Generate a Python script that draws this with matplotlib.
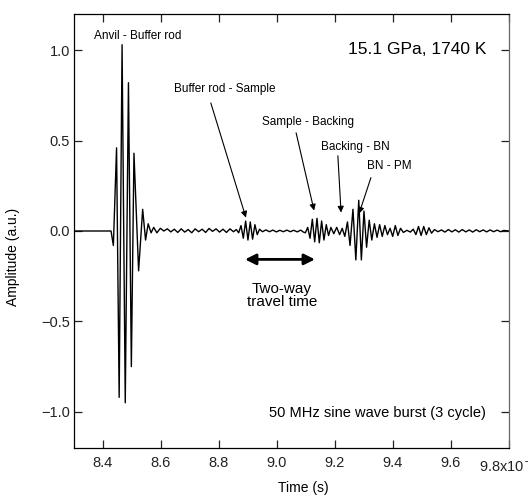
import matplotlib
matplotlib.use("Agg")
import matplotlib.pyplot as plt

plt.rcParams["font.family"] = ["Liberation Sans", "DejaVu Sans"]
plt.rcParams["axes.unicode_minus"] = True

# waveform extrema (time in 1e-6 s, amplitude in a.u.)
t_main = [8.300, 8.428, 8.436, 8.447, 8.456, 8.466, 8.477, 8.488, 8.498, 8.507,
          8.523, 8.537, 8.547, 8.556]
a_main = [0.0, 0.0, -0.08, 0.46, -0.92, 1.03, -0.95, 0.82, -0.75, 0.43,
          -0.22, 0.12, -0.05, 0.04]

t_tail1 = [8.566, 8.575, 8.586, 8.598, 8.610, 8.622, 8.634, 8.646, 8.658, 8.670,
           8.682, 8.694, 8.706, 8.718, 8.730, 8.742, 8.754, 8.766, 8.778, 8.790,
           8.802, 8.814, 8.826, 8.838, 8.850, 8.860]
a_tail1 = [-0.01, 0.02, -0.01, 0.015, 0.0, 0.012, -0.005, 0.01, -0.008, 0.012,
           -0.006, 0.008, -0.01, 0.012, -0.004, 0.01, -0.008, 0.014, -0.002, 0.012,
           -0.006, 0.01, -0.008, 0.012, -0.004, 0.008]

# Buffer rod - Sample echo
t_echo1 = [8.868, 8.876, 8.884, 8.892, 8.900, 8.908, 8.916, 8.924, 8.932, 8.940]
a_echo1 = [-0.01, 0.03, -0.04, 0.055, -0.05, 0.05, -0.045, 0.035, -0.02, 0.01]

t_gap = [8.950, 8.962, 8.974, 8.986, 8.998, 9.010, 9.022, 9.034, 9.046, 9.058,
         9.070, 9.082, 9.090]
a_gap = [-0.004, 0.006, -0.004, 0.005, -0.005, 0.004, -0.004, 0.005, -0.004, 0.004,
         -0.005, 0.005, -0.005]

# Sample - Backing echo
t_echo2 = [9.098, 9.106, 9.114, 9.122, 9.130, 9.138, 9.146, 9.154, 9.162, 9.170,
           9.178, 9.186, 9.196, 9.206, 9.216, 9.225]
a_echo2 = [-0.01, 0.02, -0.04, 0.065, -0.06, 0.07, -0.065, 0.055, -0.05, 0.035,
           -0.025, 0.02, -0.015, 0.02, -0.02, 0.015]

# Backing - BN / BN - PM echoes
t_echo3 = [9.234, 9.243, 9.252, 9.262, 9.272, 9.282, 9.291, 9.300, 9.309, 9.318,
           9.327, 9.336, 9.345, 9.354, 9.363, 9.372, 9.381, 9.390]
a_echo3 = [-0.03, 0.05, -0.08, 0.12, -0.16, 0.17, -0.16, 0.11, -0.09, 0.06,
           -0.05, 0.04, -0.035, 0.035, -0.03, 0.03, -0.02, 0.015]

t_tail2 = [9.399, 9.408, 9.417, 9.426, 9.436, 9.448, 9.460, 9.470, 9.479, 9.488,
           9.497, 9.506, 9.515, 9.524, 9.533, 9.543, 9.555, 9.567, 9.579, 9.591,
           9.603, 9.615, 9.627, 9.639, 9.651, 9.663, 9.675, 9.687, 9.699, 9.711,
           9.723, 9.735, 9.747, 9.759, 9.771, 9.782, 9.800]
a_tail2 = [-0.03, 0.03, -0.025, 0.015, -0.008, 0.004, -0.006, 0.01, -0.02, 0.025,
           -0.025, 0.025, -0.02, 0.018, -0.012, 0.008, -0.004, 0.006, -0.006, 0.008,
           -0.005, 0.007, -0.006, 0.008, -0.005, 0.006, -0.006, 0.007, -0.004, 0.006,
           -0.005, 0.006, -0.004, 0.005, -0.004, 0.003, 0.0]

time = t_main + t_tail1 + t_echo1 + t_gap + t_echo2 + t_echo3 + t_tail2
amp = a_main + a_tail1 + a_echo1 + a_gap + a_echo2 + a_echo3 + a_tail2

xticks = [8.4, 8.6, 8.8, 9.0, 9.2, 9.4, 9.6, 9.8]
xlabels = ["8.4", "8.6", "8.8", "9.0", "9.2", "9.4", "9.6", "9.8x10$^{-6}$"]
yticks = [-1.0, -0.5, 0.0, 0.5, 1.0]

# label text, text position, arrow tail, arrow tip
labels = ["Buffer rod - Sample", "Sample - Backing", "Backing - BN", "BN - PM"]
label_xy = [(8.821, 0.785), (9.107, 0.603), (9.269, 0.466), (9.386, 0.361)]
arrow_from = [(8.772, 0.708), (9.066, 0.543), (9.210, 0.416), (9.324, 0.295)]
arrow_to = [(8.893, 0.074), (9.128, 0.113), (9.221, 0.102), (9.283, 0.096)]

fig = plt.figure(figsize=(5.28, 5.0), dpi=100)
ax = fig.add_axes([0.140, 0.104, 0.824, 0.868])

ax.plot(time, amp, color="black", lw=1.0)

ax.set_xlim(8.3, 9.8)
ax.set_ylim(-1.2, 1.2)
ax.set_xticks(xticks)
ax.set_xticklabels(xlabels)
ax.set_yticks(yticks)
ax.set_yticklabels([f"{v:.1f}".replace("-", "\u2212") for v in yticks])
ax.tick_params(direction="in", top=True, right=True, length=6, width=0.9,
               labelsize=10.5, colors="#222222")
ax.tick_params(axis="x", pad=6)
ax.tick_params(axis="y", pad=3)
for s in ax.spines.values():
    s.set_linewidth(0.9)
ax.spines["right"].set_color("#666666")

ax.set_ylabel("Amplitude (a.u.)", fontsize=10)
ax.yaxis.set_label_coords(-0.123, 0.44)
fig.text(0.574, 0.024, "Time (s)", fontsize=10, ha="center", va="center")

ax.text(8.521, 1.077, "Anvil - Buffer rod", fontsize=8.5, ha="center", va="center")
for lab, xy, p0, p1 in zip(labels, label_xy, arrow_from, arrow_to):
    ax.text(xy[0], xy[1], lab, fontsize=8.5, ha="center", va="center")
    ax.annotate("", xy=p1, xytext=p0,
                arrowprops=dict(arrowstyle="-|>", color="black", lw=0.8,
                                mutation_scale=9, shrinkA=0, shrinkB=0))

ax.annotate("", xy=(8.890, -0.157), xytext=(9.131, -0.157),
            arrowprops=dict(arrowstyle="<|-|>", color="black", lw=2,
                            mutation_scale=16, shrinkA=0, shrinkB=0))
ax.text(9.017, -0.355, "Two-way\ntravel time", fontsize=11, ha="center",
        va="center", linespacing=0.9)

ax.text(9.721, 1.005, "15.1 GPa, 1740 K", fontsize=12.5, ha="right", va="center")
ax.text(9.721, -1.005, "50 MHz sine wave burst (3 cycle)", fontsize=10.5,
        ha="right", va="center")

fig.savefig("out.png", dpi=100)
